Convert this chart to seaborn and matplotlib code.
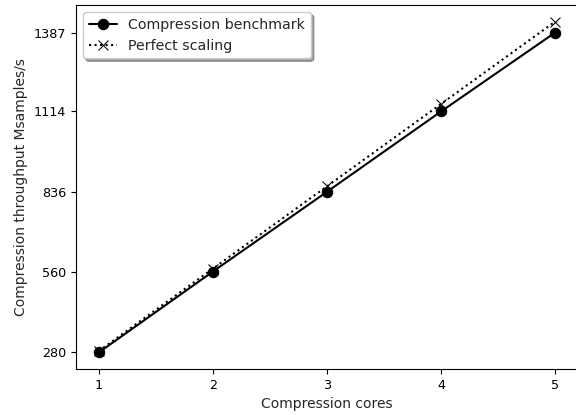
import numpy as np
import pandas as pd
import seaborn as sns
import matplotlib.pyplot as plt

cores = [1, 2, 3, 4, 5]
benchmark = [280, 560, 836, 1114, 1387]
perfect = [285, 570, 855, 1140, 1425]

sns.set_style("ticks")
plt.rcParams["font.family"] = ["DejaVu Sans"]
plt.rcParams["font.size"] = 10

fig = plt.figure(figsize=(5.76, 4.15), dpi=100)
ax = fig.add_axes([76 / 576, 46 / 415, 502 / 576, 364 / 415])

sns.lineplot(x=cores, y=benchmark, color="black", marker="o", markersize=7.5,
             markeredgecolor="black", linestyle="-", linewidth=1.5,
             label="Compression benchmark", ax=ax)
sns.lineplot(x=cores, y=perfect, color="black", marker="x", markersize=7,
             markeredgecolor="black", linestyle=":", linewidth=1.5,
             label="Perfect scaling", ax=ax)

ax.set_xticks(cores)
ax.set_yticks(benchmark)
ax.set_xlabel("Compression cores", fontsize=10)
ax.set_ylabel("Compression throughput Msamples/s", fontsize=10)
for s in ax.spines.values():
    s.set_color("black")
ax.tick_params(colors="black", labelsize=9.2)

leg = ax.legend(loc="upper left", shadow=True, fancybox=True, framealpha=1,
                fontsize=10.2)
leg.get_frame().set_edgecolor("#cccccc")

plt.savefig("out.png", dpi=100)
